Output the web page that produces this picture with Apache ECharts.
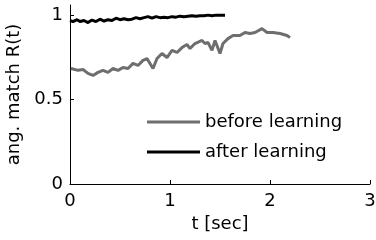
<!DOCTYPE html>
<html>
<head>
<meta charset="utf-8">
<script src="https://cdn.jsdelivr.net/npm/echarts@6/dist/echarts.min.js"></script>
<style>
  html, body { margin: 0; padding: 0; background: #fff; }
  #chart { width: 376px; height: 240px; }
</style>
</head>
<body>
<div id="chart"></div>
<script>
// time (sec) and match values
var beforeT = [0.01, 0.08, 0.13, 0.18, 0.23, 0.28, 0.33, 0.38, 0.43, 0.48, 0.53, 0.58, 0.63, 0.68, 0.73, 0.77, 0.80, 0.83, 0.87, 0.92, 0.97, 1.02, 1.07, 1.12, 1.17, 1.20, 1.25, 1.32, 1.35, 1.38, 1.42, 1.45, 1.50, 1.53, 1.58, 1.63, 1.70, 1.75, 1.80, 1.85, 1.92, 1.97, 2.03, 2.10, 2.17, 2.20]
var beforeR = [0.684, 0.673, 0.678, 0.655, 0.643, 0.661, 0.673, 0.661, 0.684, 0.673, 0.690, 0.684, 0.714, 0.702, 0.732, 0.743, 0.714, 0.684, 0.743, 0.773, 0.749, 0.791, 0.779, 0.808, 0.826, 0.802, 0.832, 0.850, 0.832, 0.838, 0.791, 0.850, 0.773, 0.832, 0.861, 0.879, 0.879, 0.897, 0.891, 0.897, 0.920, 0.897, 0.897, 0.891, 0.879, 0.867]

var afterT = [0.00, 0.03, 0.07, 0.10, 0.14, 0.18, 0.22, 0.26, 0.30, 0.34, 0.38, 0.42, 0.46, 0.50, 0.54, 0.58, 0.62, 0.66, 0.70, 0.74, 0.78, 0.82, 0.86, 0.90, 0.94, 0.98, 1.02, 1.06, 1.10, 1.14, 1.18, 1.22, 1.26, 1.30, 1.34, 1.38, 1.42, 1.46, 1.50, 1.55]
var afterR = [0.968, 0.962, 0.973, 0.962, 0.968, 0.956, 0.971, 0.962, 0.976, 0.965, 0.973, 0.968, 0.982, 0.973, 0.979, 0.973, 0.976, 0.985, 0.979, 0.985, 0.991, 0.982, 0.991, 0.985, 0.988, 0.985, 0.991, 0.988, 0.994, 0.991, 0.994, 0.997, 0.994, 0.997, 0.997, 1.000, 0.997, 1.000, 1.000, 1.000]

var xTicks = [0, 1, 2, 3]
var yTicks = [0, 0.5, 1]

function pairs(xs, ys) {
  return xs.map(function (x, i) { return [x, ys[i]] })
}

var font = 'DejaVu Sans, sans-serif'
var fs = 18
var myChart = echarts.init(document.getElementById('chart'), null, { renderer: 'canvas' })

var option = {
  animation: false,
  grid: { left: 70, right: 6, top: 5, bottom: 56, containLabel: false, outerBoundsMode: 'none' },
  legend: {
    orient: 'vertical',
    left: 142,
    top: 108,
    itemWidth: 53,
    itemHeight: 3,
    itemGap: 12,
    icon: 'rect',
    textStyle: { fontFamily: font, fontSize: fs, color: '#000', lineHeight: 18 },
    data: ['before learning', 'after learning']
  },
  xAxis: {
    type: 'value',
    min: 0, max: 3, interval: 1,
    name: 't [sec]',
    nameLocation: 'middle',
    nameGap: 23,
    nameTextStyle: { fontFamily: font, fontSize: fs, color: '#000' },
    axisLine: { lineStyle: { color: '#000', width: 1 } },
    axisTick: { inside: true, length: 4, lineStyle: { color: '#000' } },
    axisLabel: { fontFamily: font, fontSize: fs, color: '#000', margin: 8, customValues: xTicks },
    splitLine: { show: false }
  },
  yAxis: {
    type: 'value',
    min: 0, max: 1.06,
    name: 'ang. match R(t)',
    nameLocation: 'middle',
    nameGap: 47,
    nameTextStyle: { fontFamily: font, fontSize: fs, color: '#000' },
    axisLine: { show: true, lineStyle: { color: '#000', width: 1 } },
    axisTick: { show: true, inside: true, length: 4, customValues: yTicks, lineStyle: { color: '#000' } },
    axisLabel: { fontFamily: font, fontSize: fs, color: '#000', margin: 7, customValues: yTicks },
    splitLine: { show: false }
  },
  series: [
    {
      name: 'before learning',
      type: 'line',
      data: pairs(beforeT, beforeR),
      showSymbol: false,
      color: '#6e6e6e',
      lineStyle: { color: '#6e6e6e', width: 3 }
    },
    {
      name: 'after learning',
      type: 'line',
      data: pairs(afterT, afterR),
      showSymbol: false,
      color: '#000',
      lineStyle: { color: '#000', width: 3 }
    }
  ]
}

myChart.setOption(option)
</script>
</body>
</html>
